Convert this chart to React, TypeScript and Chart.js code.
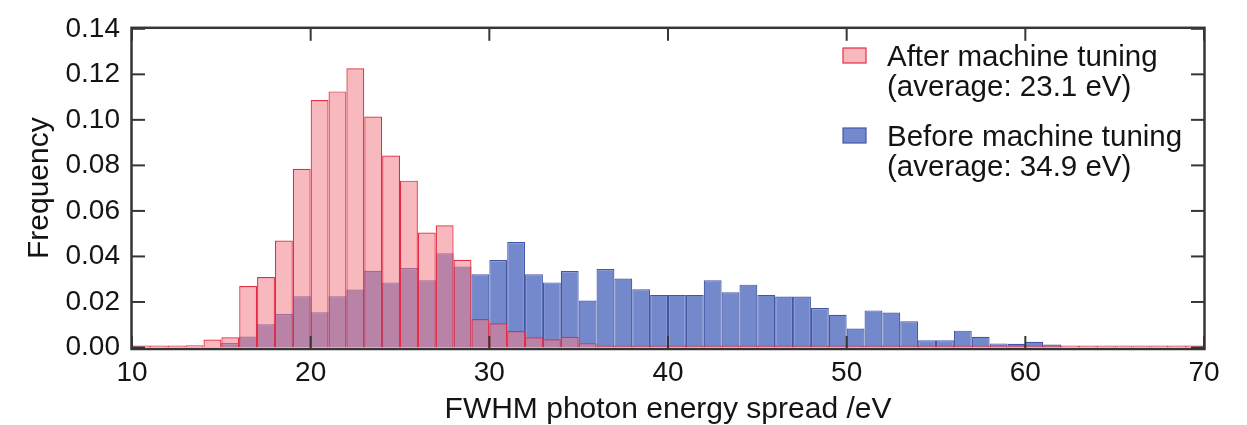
import React, { useEffect, useRef } from "react";
import { Chart, registerables } from "chart.js";

Chart.register(...registerables);

// Histogram bins (lower edge, eV), 1 eV wide
const binStart = [
  10, 11, 12, 13, 14, 15, 16, 17, 18, 19,
  20, 21, 22, 23, 24, 25, 26, 27, 28, 29,
  30, 31, 32, 33, 34, 35, 36, 37, 38, 39,
  40, 41, 42, 43, 44, 45, 46, 47, 48, 49,
  50, 51, 52, 53, 54, 55, 56, 57, 58, 59,
  60, 61, 62, 63, 64, 65, 66, 67, 68, 69,
];

// After machine tuning (average 23.1 eV)
const afterTuning = [
  0, 0, 0, 0.001, 0.0035, 0.0045, 0.027, 0.031, 0.047, 0.0785,
  0.1087, 0.1125, 0.1227, 0.1015, 0.0843, 0.0733, 0.0505, 0.0537, 0.0385, 0.0125,
  0.0106, 0.0072, 0.0045, 0.0036, 0.0047, 0.0019, 0.0005, 0, 0, 0,
  0, 0, 0, 0, 0, 0, 0, 0, 0, 0,
  0, 0, 0, 0, 0, 0, 0, 0, 0, 0,
  0, 0, 0, 0.0004, 0, 0.0004, 0, 0, 0, 0,
];

// Before machine tuning (average 34.9 eV)
const beforeTuning = [
  0, 0, 0, 0, 0, 0.002, 0.0048, 0.0102, 0.0147, 0.0225,
  0.0155, 0.0225, 0.0255, 0.0337, 0.0286, 0.0349, 0.0295, 0.0414, 0.0356, 0.0322,
  0.0384, 0.0463, 0.0322, 0.0286, 0.0336, 0.0206, 0.0345, 0.0303, 0.0256, 0.0231,
  0.0231, 0.0231, 0.0295, 0.0243, 0.0276, 0.0231, 0.0224, 0.0224, 0.0173, 0.0144,
  0.0083, 0.0163, 0.0154, 0.0115, 0.0032, 0.0032, 0.0074, 0.0047, 0.0018, 0.0016,
  0.0025, 0.0013, 0, 0, 0, 0, 0, 0, 0, 0,
];

const xTicks = [10, 20, 30, 40, 50, 60, 70];
const yTicks = [0, 0.02, 0.04, 0.06, 0.08, 0.1, 0.12, 0.14];

const legendAfter = ["After machine tuning", "(average: 23.1 eV)"];
const legendBefore = ["Before machine tuning", "(average: 34.9 eV)"];

const FONT = "'Liberation Sans', Arial, Helvetica, sans-serif";
const TEXT = "#141414";

const RED_FILL = "rgba(242,128,137,0.55)";
const RED_LINE = "rgb(228,45,68)";
const BLUE_FILL = "rgb(116,136,204)";
const BLUE_LINE = "rgb(66,86,168)";

const framePlugin = {
  id: "frameAndLegend",
  afterDatasetsDraw(chart: any) {
    const { ctx, chartArea: a, scales } = chart;
    const x = scales.x;
    const y = scales.y;
    ctx.save();
    ctx.strokeStyle = "#363636";
    ctx.lineWidth = 2;
    const L = 13;
    const seg = (x1: number, y1: number, x2: number, y2: number) => {
      ctx.beginPath();
      ctx.moveTo(x1, y1);
      ctx.lineTo(x2, y2);
      ctx.stroke();
    };
    xTicks.forEach((v) => {
      const px = x.getPixelForValue(v);
      seg(px, a.bottom + 1.5, px, a.bottom + 1.5 - L);
      seg(px, a.top - 1, px, a.top - 1 + L);
    });
    yTicks.forEach((v) => {
      const py = y.getPixelForValue(v);
      seg(a.left, py, a.left + L, py);
      seg(a.right, py, a.right - L, py);
    });
    ctx.lineWidth = 2.5;
    ctx.strokeRect(a.left - 0.5, a.top - 1, a.right - a.left + 1, a.bottom - a.top + 2.5);

    // legend
    const drawEntry = (lines: string[], baseline: number, fill: string, stroke: string) => {
      ctx.fillStyle = "#fff";
      ctx.fillRect(843, baseline - 18, 23, 15);
      ctx.fillStyle = fill;
      ctx.fillRect(843, baseline - 18, 23, 15);
      ctx.strokeStyle = stroke;
      ctx.lineWidth = 1.2;
      ctx.strokeRect(843, baseline - 18, 23, 15);
      ctx.fillStyle = TEXT;
      ctx.font = `29.5px ${FONT}`;
      ctx.textAlign = "left";
      ctx.textBaseline = "alphabetic";
      lines.forEach((t, i) => ctx.fillText(t, 887, baseline + i * 30));
    };
    drawEntry(legendAfter, 66, RED_FILL, RED_LINE);
    drawEntry(legendBefore, 146, BLUE_FILL, BLUE_LINE);
    ctx.restore();
  },
};

export default function App() {
  const ref = useRef<HTMLCanvasElement | null>(null);

  useEffect(() => {
    document.body.style.margin = "0";
    const canvas = ref.current;
    if (!canvas) return;
    const chart = new Chart(canvas, {
      type: "bar",
      data: {
        datasets: [
          {
            label: legendAfter.join(" "),
            data: binStart.map((b, i) => ({ x: b + 0.5, y: afterTuning[i] })),
            backgroundColor: RED_FILL,
            borderColor: RED_LINE,
            borderWidth: 1.2,
            minBarLength: 2,
            inflateAmount: 0,
            grouped: false,
            barPercentage: 1,
            categoryPercentage: 1,
          } as any,
          {
            label: legendBefore.join(" "),
            data: binStart.map((b, i) => ({ x: b + 0.5, y: beforeTuning[i] })),
            backgroundColor: BLUE_FILL,
            borderColor: BLUE_LINE,
            borderWidth: 1.2,
            inflateAmount: 0,
            grouped: false,
            barPercentage: 1,
            categoryPercentage: 1,
          } as any,
        ],
      },
      options: {
        animation: false,
        responsive: true,
        maintainAspectRatio: false,
        events: [],
        layout: { padding: { top: 26.5, right: 43, left: 0, bottom: 0 } },
        plugins: {
          legend: { display: false },
          tooltip: { enabled: false },
          title: { display: false },
        },
        scales: {
          x: {
            type: "linear",
            min: 10,
            max: 70,
            offset: false,
            grid: { display: false, drawTicks: false, offset: false },
            border: { display: false },
            ticks: {
              stepSize: 10,
              padding: 9,
              color: TEXT,
              font: { family: FONT, size: 28 },
              maxRotation: 0,
              autoSkip: false,
            },
            title: {
              display: true,
              text: "FWHM photon energy spread /eV",
              color: TEXT,
              font: { family: FONT, size: 30, lineHeight: 1 },
              padding: { top: 0, bottom: 0.5 },
            },
            afterFit: (s: any) => {
              s.height = 77.5;
            },
          },
          y: {
            type: "linear",
            min: 0,
            max: 0.14,
            grid: { display: false, drawTicks: false },
            border: { display: false },
            ticks: {
              stepSize: 0.02,
              padding: 12,
              color: TEXT,
              font: { family: FONT, size: 28 },
              callback: (v: any) => Number(v).toFixed(2),
            },
            title: {
              display: true,
              text: "Frequency",
              color: TEXT,
              font: { family: FONT, size: 30, lineHeight: 1 },
              padding: { top: 25, bottom: 0 },
            },
            afterFit: (s: any) => {
              s.width = 132;
            },
          },
        },
      } as any,
      plugins: [framePlugin],
    });
    return () => chart.destroy();
  }, []);

  return (
    <div style={{ position: "relative", width: 1247, height: 425 }}>
      <canvas ref={ref} />
    </div>
  );
}
